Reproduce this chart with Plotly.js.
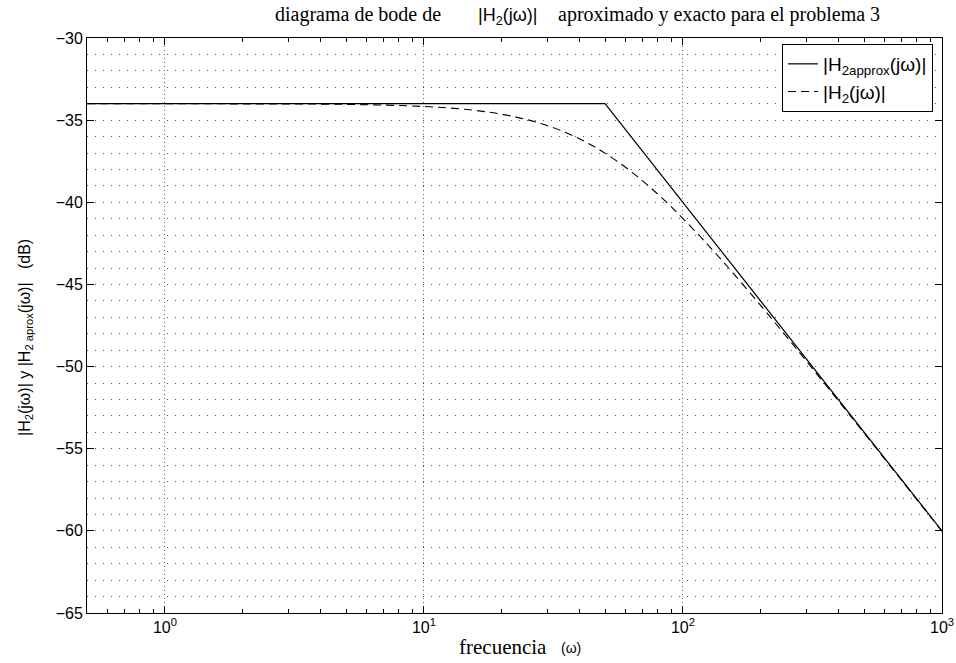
<!DOCTYPE html>
<html>
<head>
<meta charset="utf-8">
<script src="https://cdn.plot.ly/plotly-3.0.1.min.js"></script>
<style>html,body{margin:0;padding:0;background:#fff;}#chart{width:956px;height:663px;}</style>
</head>
<body>
<div id="chart"></div>
<script>
// Asymptotic (approximate) magnitude
const approxFreq = [0.5, 50, 1000];
const approxDb = [-34, -34, -60];

// Exact magnitude
const exactFreq = [0.5, 1, 2, 5, 10, 15, 20, 25, 30, 35, 40, 45, 50, 60, 70, 80, 90, 100, 120, 150, 200, 250, 300, 400, 500, 700, 1000];
const exactDb = [-34.00, -34.00, -34.01, -34.04, -34.17, -34.37, -34.64, -34.97, -35.34, -35.73, -36.15, -36.58, -37.01, -37.87, -38.71, -39.51, -40.27, -40.99, -42.30, -44.00, -46.30, -48.15, -49.68, -52.13, -54.04, -56.95, -60.03];

const xTickVals = [1, 10, 100, 1000];
const xTickText = ['10<sup>0</sup>', '10<sup>1</sup>', '10<sup>2</sup>', '10<sup>3</sup>'];
const xMinorVals = [0.6, 0.7, 0.8, 0.9, 2, 3, 4, 5, 6, 7, 8, 9, 20, 30, 40, 50, 60, 70, 80, 90, 200, 300, 400, 500, 600, 700, 800, 900];
const yTickVals = [-65, -60, -55, -50, -45, -40, -35, -30];
const yTickText = ['\u221265', '\u221260', '\u221255', '\u221250', '\u221245', '\u221240', '\u221235', '\u221230'];

const sans = 'Liberation Sans, Arial, sans-serif';
const serif = 'Liberation Serif, Times New Roman, serif';

const traces = [
  {x: approxFreq, y: approxDb, mode: 'lines', name: '|H<sub>2approx</sub>(j\u03c9)|',
   line: {color: '#000', width: 1.2}},
  {x: exactFreq, y: exactDb, mode: 'lines', name: '|H<sub>2</sub>(j\u03c9)|',
   line: {color: '#000', width: 1.1, dash: '8px,5px', shape: 'spline'}}
];

// pixel -> paper helpers (plot area: x 87..942, y 38..613)
const px = v => (v - 87) / 855;
const py = v => 1 - (v - 38) / 575;

const layout = {
  width: 956, height: 663,
  margin: {l: 87, r: 14, t: 38, b: 50},
  paper_bgcolor: '#fff', plot_bgcolor: '#fff',
  showlegend: true,
  font: {family: sans, size: 14, color: '#000'},
  legend: {x: px(933), y: py(44), xanchor: 'right', yanchor: 'top',
    bordercolor: '#000', borderwidth: 1, bgcolor: '#fff',
    font: {family: sans, size: 19, color: '#000'}, tracegroupgap: 0},
  xaxis: {type: 'log', range: [Math.log10(0.5), 3],
    tickvals: xTickVals, ticktext: xTickText, ticks: 'inside', ticklen: 7, tickcolor: '#000',
    showline: true, linecolor: '#000', linewidth: 1, mirror: 'allticks',
    showgrid: true, gridcolor: '#666', griddash: '1px,3px', gridwidth: 1,
    minor: {tickvals: xMinorVals, ticks: 'inside', ticklen: 4, tickcolor: '#000', showgrid: false},
    tickfont: {family: sans, size: 16}, zeroline: false, fixedrange: true},
  yaxis: {range: [-65, -30], tickvals: yTickVals, ticktext: yTickText,
    ticks: 'inside', ticklen: 7, tickcolor: '#000',
    showline: true, linecolor: '#000', linewidth: 1, mirror: 'allticks',
    showgrid: true, gridcolor: '#555', griddash: '1px,7px', gridwidth: 1,
    minor: {dtick: 1, showgrid: true, gridcolor: '#555', griddash: '1px,7px', gridwidth: 1, ticks: ''},
    tickfont: {family: sans, size: 16}, zeroline: false, fixedrange: true},
  annotations: [
    {xref: 'paper', yref: 'paper', x: px(273), y: py(15), xanchor: 'left', yanchor: 'middle',
     showarrow: false, font: {family: serif, size: 20}, text: 'diagrama de bode de'},
    {xref: 'paper', yref: 'paper', x: px(476), y: py(16), xanchor: 'left', yanchor: 'middle',
     showarrow: false, font: {family: sans, size: 18}, text: '|H<sub>2</sub>(j\u03c9)|'},
    {xref: 'paper', yref: 'paper', x: px(556), y: py(15), xanchor: 'left', yanchor: 'middle',
     showarrow: false, font: {family: serif, size: 20}, text: 'aproximado y exacto para el problema 3'},
    {xref: 'paper', yref: 'paper', x: px(457), y: py(647), xanchor: 'left', yanchor: 'middle',
     showarrow: false, font: {family: serif, size: 21}, text: 'frecuencia'},
    {xref: 'paper', yref: 'paper', x: px(559), y: py(648), xanchor: 'left', yanchor: 'middle',
     showarrow: false, font: {family: sans, size: 14}, text: '(\u03c9)'},
    {xref: 'paper', yref: 'paper', x: px(25), y: py(338), xanchor: 'center', yanchor: 'middle',
     showarrow: false, textangle: -90, font: {family: sans, size: 16},
     text: '|H<sub>2</sub>(j\u03c9)| y |H<sub>2 aprox</sub>(j\u03c9)|\u00a0\u00a0\u00a0(dB)'}
  ]
};

Plotly.newPlot('chart', traces, layout, {displayModeBar: false, staticPlot: true});
</script>
</body>
</html>
